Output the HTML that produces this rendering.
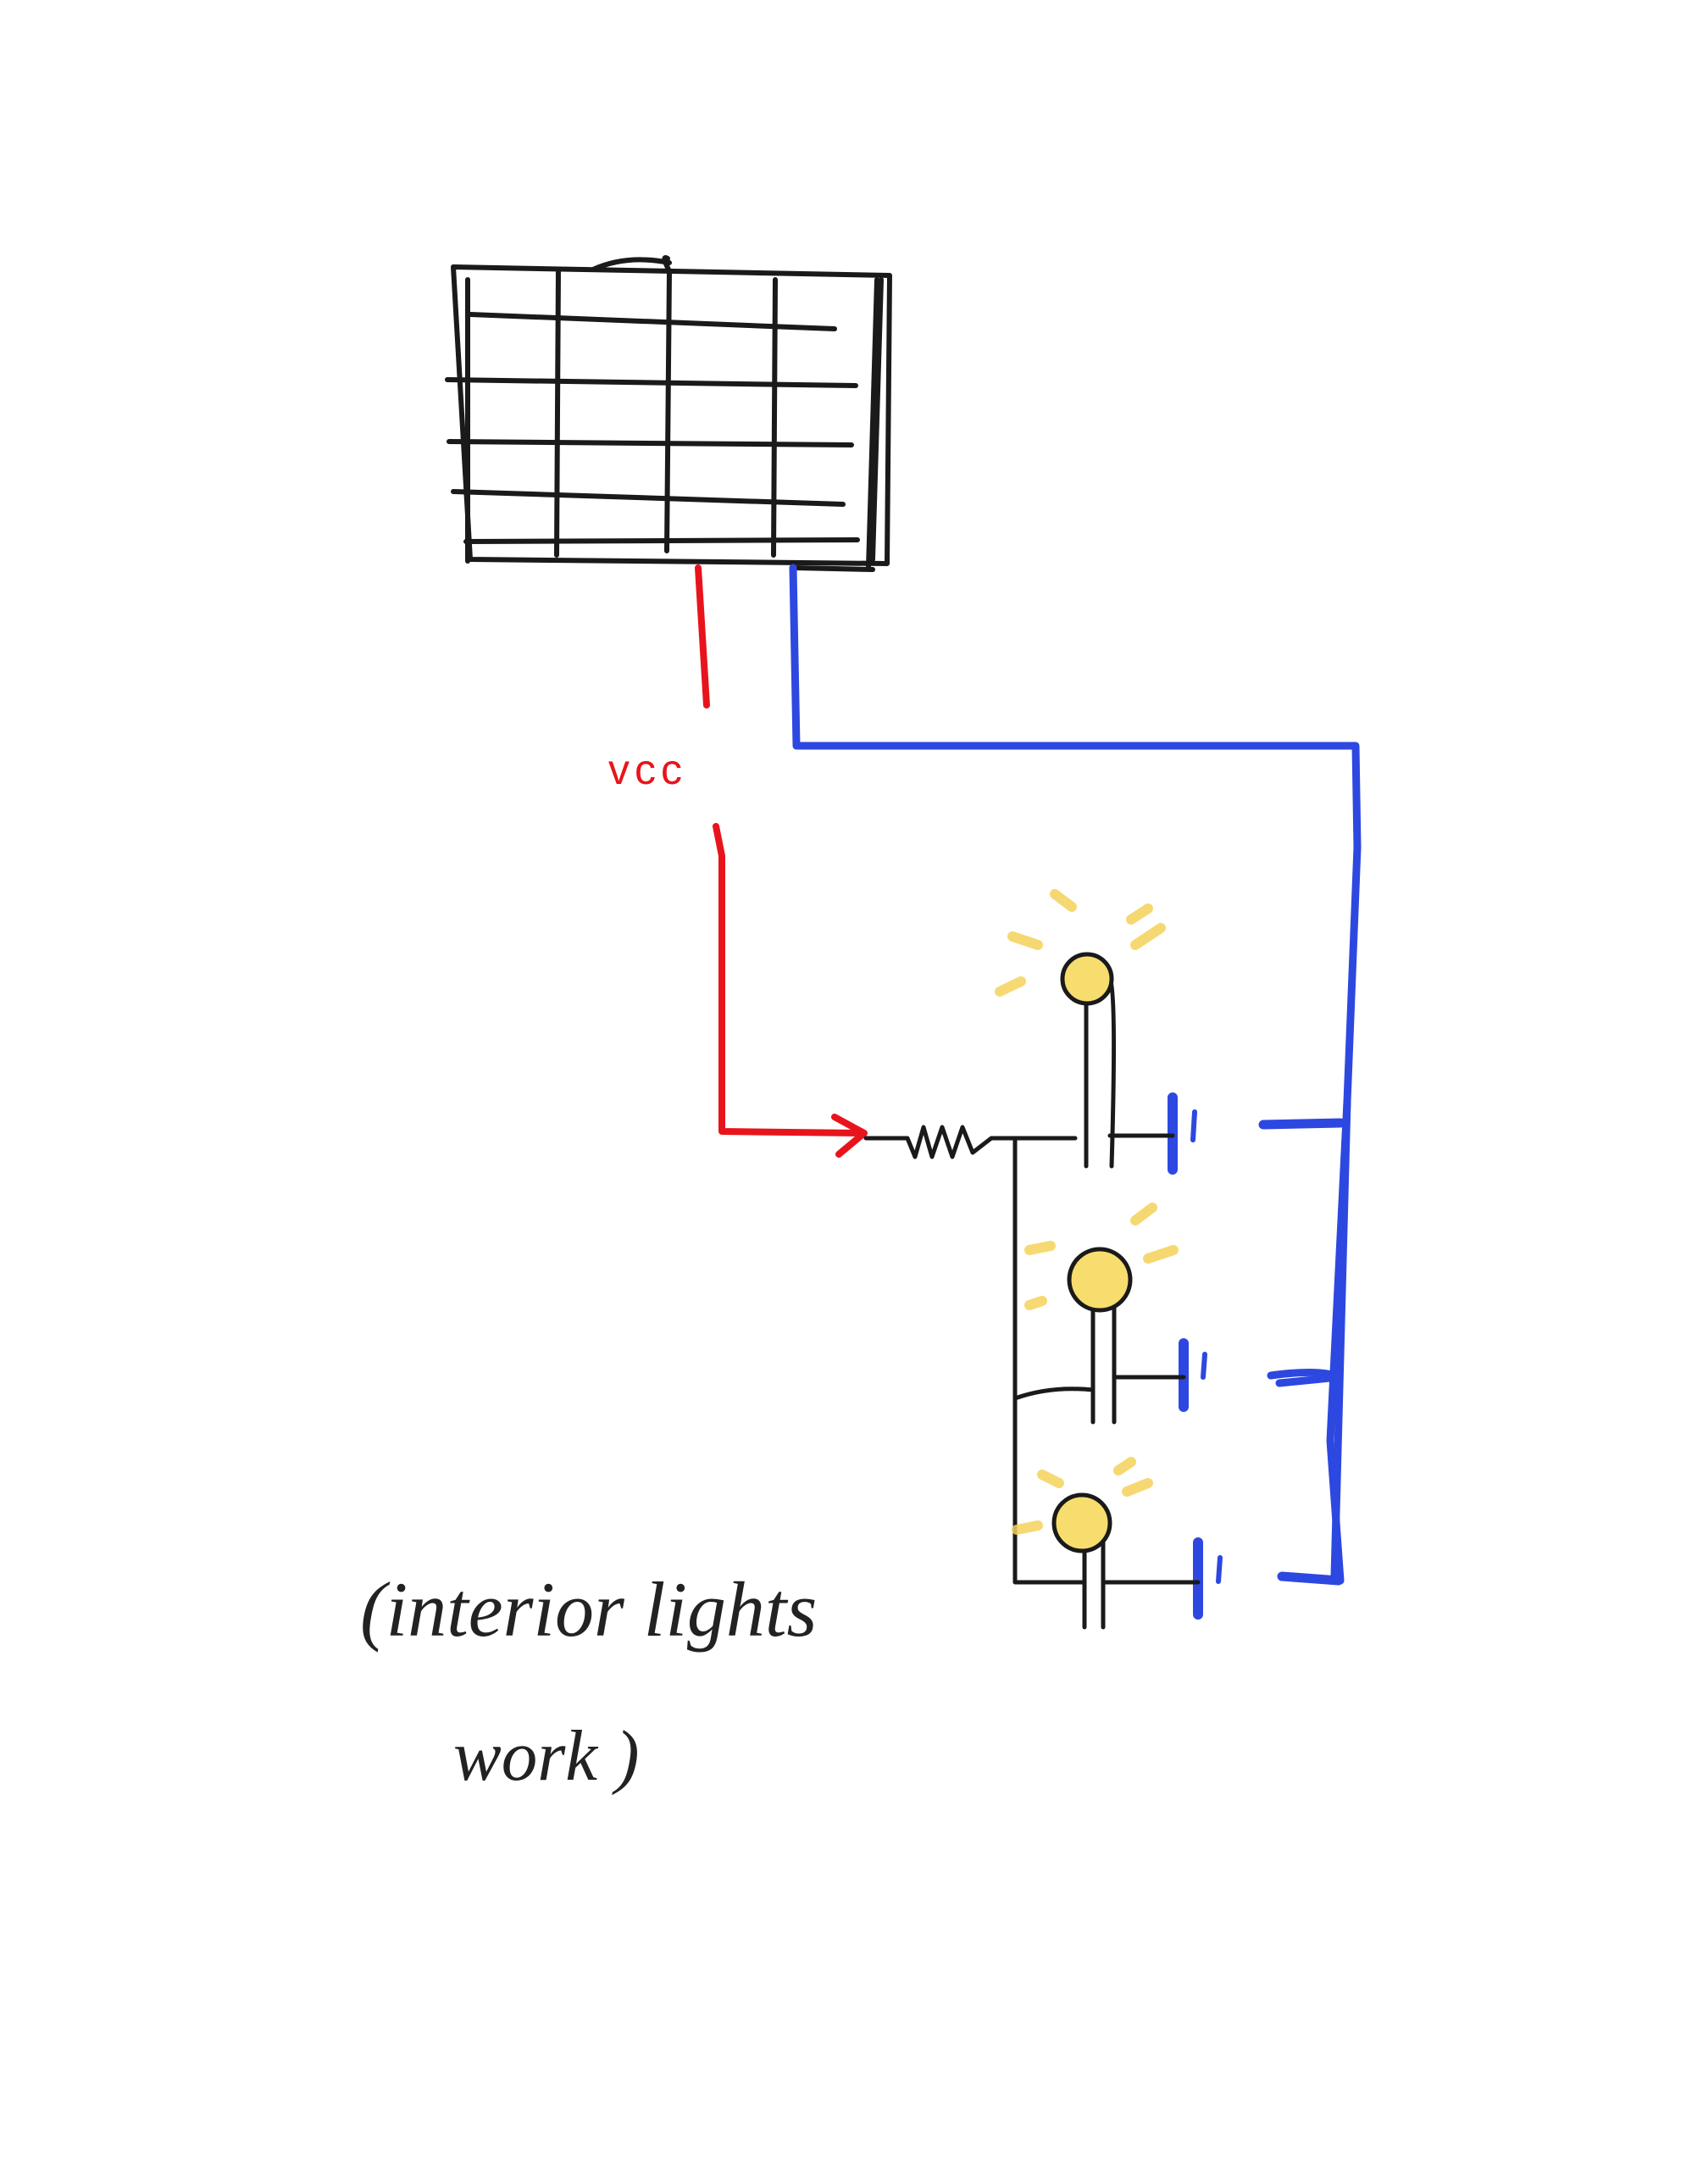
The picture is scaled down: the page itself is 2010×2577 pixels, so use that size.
<!DOCTYPE html>
<html><head><meta charset="utf-8"><style>
html,body{margin:0;padding:0;background:#fff;}
svg{display:block}
</style></head><body>
<svg width="2010" height="2577" viewBox="0 0 2010 2577" xmlns="http://www.w3.org/2000/svg">
<g fill="none" stroke-linecap="round" stroke-linejoin="round">
<g stroke="#1a1a1a" stroke-width="6">
<path d="M535 315 L1050 325 L1047 665 L555 660 Z"/>
<path d="M552 330 L552 662"/>
<path d="M659 318 L657 655"/>
<path d="M788 305 Q780 300 790 320 L787 650"/>
<path d="M915 330 L913 655"/>
<path d="M1035 330 L1025 670"/>
<path d="M1040 330 L1030 660"/>
<path d="M555 371 L985 388"/>
<path d="M528 448 L1010 455"/>
<path d="M530 521 L1005 525"/>
<path d="M535 580 L995 595"/>
<path d="M550 639 L1012 637"/>
<path d="M700 318 Q740 300 790 310"/>
<path d="M940 670 L1030 672"/>
</g>
<g stroke="#e8141c" stroke-width="8">
<path d="M824 670 L834 832"/>
<path d="M845 975 L852 1010 L852 1335 L1015 1337"/>
<path d="M985 1318 L1020 1337 L990 1362"/>
</g>
<g stroke="#2d48e0">
<path d="M936 670 L940 880 L1600 880 L1602 1000 L1590 1300 L1570 1700 L1582 1865" stroke-width="9"/>
<path d="M1590 1300 L1575 1860" stroke-width="9"/>
<path d="M1491 1327 L1582 1325" stroke-width="11"/>
<path d="M1500 1623 Q1560 1615 1580 1625 L1510 1632" stroke-width="9"/>
<path d="M1513 1860 L1580 1865" stroke-width="11"/>
<path d="M1384 1295 L1384 1380" stroke-width="12"/>
<path d="M1410 1312 L1408 1345" stroke-width="6"/>
<path d="M1397 1585 L1397 1660" stroke-width="12"/>
<path d="M1422 1598 L1420 1625" stroke-width="6"/>
<path d="M1414 1820 L1414 1905" stroke-width="12"/>
<path d="M1440 1838 L1438 1866" stroke-width="6"/>
</g>
<g stroke="#1a1a1a" stroke-width="5">
<path d="M1022 1343 L1071 1343 L1080 1365 L1090 1330 L1100 1365 L1112 1330 L1124 1365 L1136 1330 L1148 1360 L1170 1343 L1269 1343"/>
<path d="M1198 1345 L1198 1867 L1280 1867"/>
<path d="M1198 1650 Q1240 1635 1290 1640"/>
<path d="M1282 1175 L1282 1376"/>
<path d="M1310 1155 Q1318 1170 1312 1376"/>
<path d="M1310 1340 L1384 1340"/>
<path d="M1290 1540 L1290 1678"/>
<path d="M1315 1540 L1315 1678"/>
<path d="M1315 1625 L1397 1625"/>
<path d="M1280 1820 L1280 1920"/>
<path d="M1302 1820 L1302 1920"/>
<path d="M1302 1867 L1414 1867"/>
</g>
<g stroke="#f5d25a" stroke-width="12" opacity="0.85">
<path d="M1245 1055 L1265 1070"/><path d="M1335 1085 L1355 1072"/><path d="M1340 1115 L1370 1095"/>
<path d="M1195 1105 L1225 1115"/><path d="M1180 1170 L1205 1158"/>
<path d="M1340 1440 L1360 1425"/><path d="M1355 1485 L1385 1475"/><path d="M1215 1475 L1240 1470"/><path d="M1215 1540 L1230 1535"/>
<path d="M1320 1735 L1335 1725"/><path d="M1330 1760 L1355 1750"/><path d="M1230 1740 L1250 1750"/><path d="M1200 1805 L1225 1800"/>
</g>
<g stroke="#1a1a1a" stroke-width="5" fill="#f7dd6e">
<circle cx="1283" cy="1155" r="29"/>
<circle cx="1298" cy="1510" r="36"/>
<circle cx="1277" cy="1797" r="33"/>
</g>
</g>
<text x="718" y="925" font-family="Liberation Sans, sans-serif" font-size="50" fill="#e8141c" letter-spacing="6">vcc</text>
<text x="425" y="1930" font-family="Liberation Serif, serif" font-style="italic" font-size="92" fill="#222">(interior lights</text>
<text x="535" y="2100" font-family="Liberation Serif, serif" font-style="italic" font-size="85" fill="#222">work )</text>
</svg>
</body></html>
